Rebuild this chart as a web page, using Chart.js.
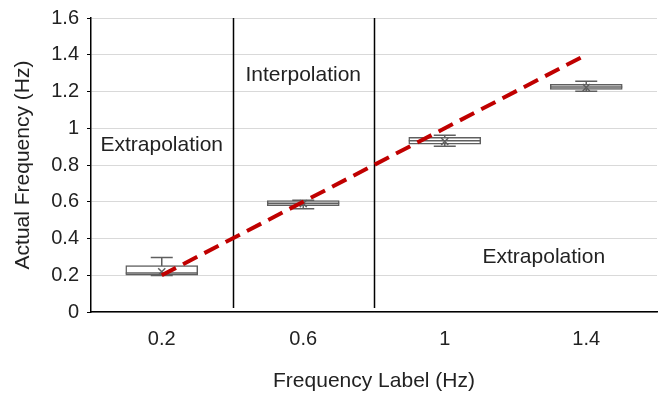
<!DOCTYPE html>
<html>
<head>
<meta charset="utf-8">
<script src="https://cdn.jsdelivr.net/npm/chart.js@4"></script>
<style>
  html, body { margin: 0; padding: 0; background: #fff; }
  #wrap { width: 660px; height: 394px; }
</style>
</head>
<body>
<div id="wrap"><canvas id="chart"></canvas></div>
<script>
// box plot data per frequency label
const labels = [0.2, 0.6, 1, 1.4];
const q1 = [0.201, 0.579, 0.913, 1.212];
const q3 = [0.252, 0.606, 0.951, 1.239];
const median = [0.212, 0.592, 0.932, 1.224];
const lowWhisker = [0.198, 0.562, 0.902, 1.202];
const highWhisker = [0.296, 0.608, 0.962, 1.256];
const means = [0.219, 0.590, 0.928, 1.222];
const idealLine = [[0.2, 0.2], [1.4, 1.4]];
const dividers = [0.4, 0.8];
const regionText = [
    { text: 'Extrapolation', x: 0.2, y: 0.91 },
    { text: 'Interpolation', x: 0.6, y: 1.29 },
    { text: 'Extrapolation', x: 1.28, y: 0.3 }
];
const yTicks = [0, 0.2, 0.4, 0.6, 0.8, 1, 1.2, 1.4, 1.6];

const FONT = '"Liberation Sans", Arial, sans-serif';
const boxColor = '#5f5f5f';

const boxExtras = {
    id: 'boxExtras',
    beforeDatasetsDraw(chart) {
        const { ctx, scales: { x, y }, chartArea } = chart;
        ctx.save();
        // vertical dividers
        ctx.strokeStyle = '#000';
        ctx.lineWidth = 1.5;
        dividers.forEach(d => {
            const px = Math.round(x.getPixelForValue(d)) + 0.5;
            ctx.beginPath();
            ctx.moveTo(px, chartArea.top);
            ctx.lineTo(px, chartArea.bottom - 4);
            ctx.stroke();
        });
        // whiskers
        ctx.strokeStyle = boxColor;
        ctx.lineWidth = 1.5;
        labels.forEach((l, i) => {
            const px = x.getPixelForValue(l);
            const lo = y.getPixelForValue(lowWhisker[i]);
            const hi = y.getPixelForValue(highWhisker[i]);
            ctx.beginPath();
            ctx.moveTo(px, lo); ctx.lineTo(px, hi);
            ctx.moveTo(px - 11, lo); ctx.lineTo(px + 11, lo);
            ctx.moveTo(px - 11, hi); ctx.lineTo(px + 11, hi);
            ctx.stroke();
        });
        // region text
        ctx.fillStyle = '#222';
        ctx.font = '21px ' + FONT;
        ctx.textAlign = 'center';
        ctx.textBaseline = 'middle';
        regionText.forEach(t => {
            ctx.fillText(t.text, x.getPixelForValue(t.x), y.getPixelForValue(t.y));
        });
        ctx.restore();
    },
    afterDatasetDraw(chart, args) {
        if (args.index !== 0) return;
        const { ctx, scales: { x, y } } = chart;
        ctx.save();
        ctx.strokeStyle = boxColor;
        ctx.lineWidth = 1.5;
        labels.forEach((l, i) => {
            const px = x.getPixelForValue(l);
            const py = y.getPixelForValue(median[i]);
            ctx.beginPath();
            ctx.moveTo(px - 36, py); ctx.lineTo(px + 36, py);
            ctx.stroke();
        });
        ctx.restore();
    }
};

const fmt = v => String(Math.round(v * 10) / 10);

new Chart(document.getElementById('chart'), {
    data: {
        datasets: [
            {
                type: 'bar',
                data: labels.map((l, i) => ({ x: l, y: [q1[i], q3[i]] })),
                backgroundColor: '#fff',
                borderColor: boxColor,
                borderWidth: 1.5,
                borderSkipped: false,
                barThickness: 72,
                order: 3
            },
            {
                type: 'scatter',
                data: labels.map((l, i) => ({ x: l, y: means[i] })),
                pointStyle: 'crossRot',
                pointRadius: 5,
                borderColor: boxColor,
                borderWidth: 1.5,
                order: 2
            },
            {
                type: 'line',
                data: idealLine.map(p => ({ x: p[0], y: p[1] })),
                borderColor: '#c00000',
                borderWidth: 4,
                borderDash: [16, 8],
                pointRadius: 0,
                fill: false,
                order: 1
            }
        ]
    },
    options: {
        responsive: true,
        maintainAspectRatio: false,
        animation: false,
        layout: { autoPadding: false, padding: { top: 18, right: 3, left: 11, bottom: 0 } },
        plugins: { legend: { display: false }, tooltip: { enabled: false } },
        scales: {
            x: {
                type: 'linear',
                offset: false,
                min: 0,
                max: 1.6,
                afterBuildTicks: s => { s.ticks = labels.map(v => ({ value: v })); },
                afterFit: s => { s.height = 82; s.paddingLeft = 0; s.paddingRight = 0; },
                grid: { display: false, drawTicks: false },
                border: { color: '#000', width: 1.5 },
                ticks: { color: '#222', font: { family: FONT, size: 20 }, padding: 15, callback: fmt },
                title: { display: true, text: 'Frequency Label (Hz)', color: '#222', font: { family: FONT, size: 21 }, padding: 0 }
            },
            y: {
                min: 0,
                max: 1.6,
                afterBuildTicks: s => { s.ticks = yTicks.map(v => ({ value: v })); },
                afterFit: s => { s.width = 80; s.paddingTop = 0; s.paddingBottom = 0; },
                grid: { color: '#d9d9d9', lineWidth: 1, tickLength: 4, tickColor: '#000' },
                border: { color: '#000', width: 1.5 },
                ticks: { color: '#222', font: { family: FONT, size: 20 }, padding: 8, callback: fmt },
                title: { display: true, text: 'Actual Frequency (Hz)', color: '#222', font: { family: FONT, size: 21 }, padding: 0 }
            }
        }
    },
    plugins: [boxExtras]
});
</script>
</body>
</html>
